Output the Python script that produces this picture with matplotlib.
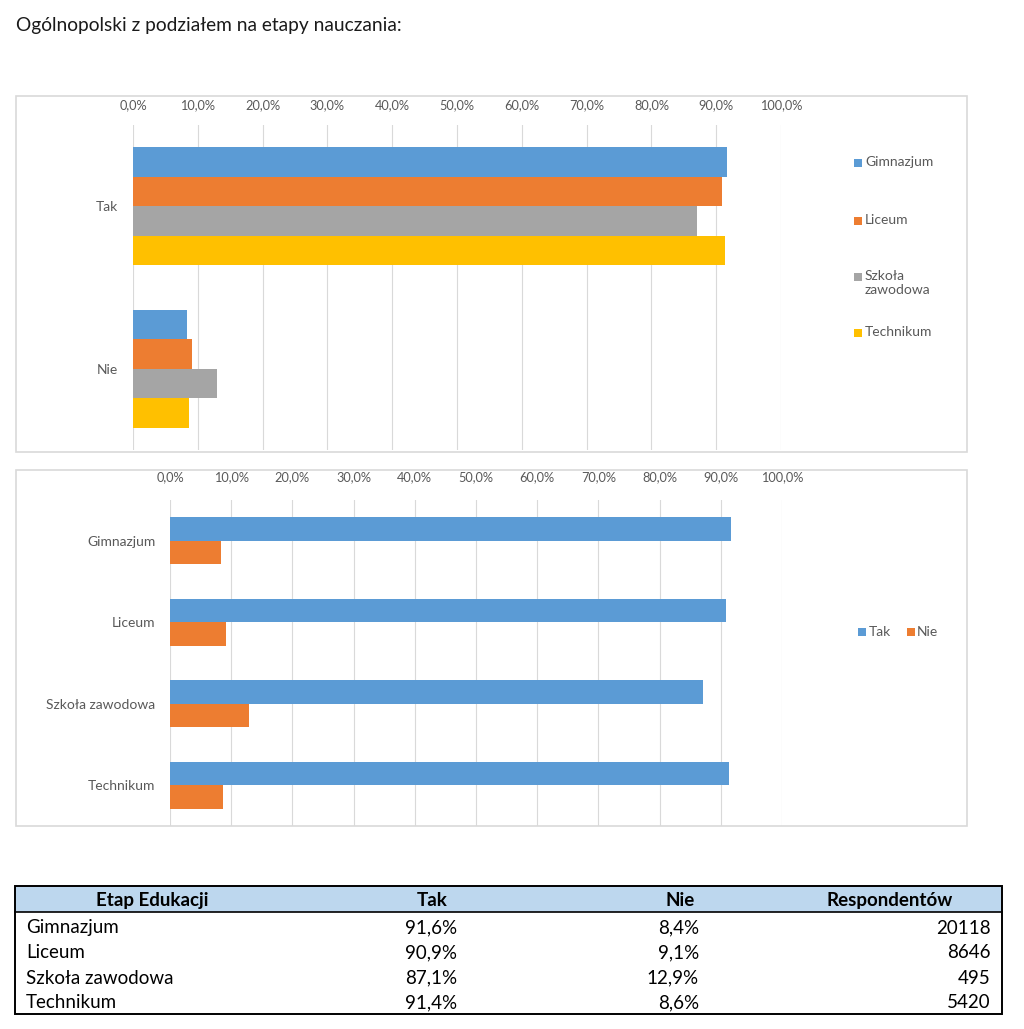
import matplotlib
matplotlib.use('Agg')
import matplotlib.pyplot as plt
from matplotlib.patches import Rectangle
import numpy as np

# ---------------- data ----------------
title = 'Ogólnopolski z podziałem na etapy nauczania:'
stages = ['Gimnazjum', 'Liceum', 'Szkoła zawodowa', 'Technikum']
stage_legend = ['Gimnazjum', 'Liceum', 'Szkoła\nzawodowa', 'Technikum']
answers = ['Tak', 'Nie']
tak = [91.6, 90.9, 87.1, 91.4]
nie = [8.4, 9.1, 12.9, 8.6]
respondents = [20118, 8646, 495, 5420]
xticks = [0, 10, 20, 30, 40, 50, 60, 70, 80, 90, 100]
table_header = ['Etap Edukacji', 'Tak', 'Nie', 'Respondentów']

stage_colors = ['#5B9BD5', '#ED7D31', '#A5A5A5', '#FFC000']
answer_colors = ['#5B9BD5', '#ED7D31']
FONT = 'Lato'
plt.rcParams['font.family'] = [FONT, 'DejaVu Sans']

W, H = 1024, 1029
fig = plt.figure(figsize=(W / 100, H / 100), dpi=100)
fig.patch.set_facecolor('white')

def px_axes(x0, y0, x1, y1):
    return fig.add_axes([x0 / W, 1 - y1 / H, (x1 - x0) / W, (y1 - y0) / H])

overlay = fig.add_axes([0, 0, 1, 1])
overlay.set_xlim(0, W)
overlay.set_ylim(H, 0)
overlay.axis('off')

def pct(v):
    return f'{v:.1f}%'.replace('.', ',')

tick_color = '#595959'
grid_color = '#D9D9D9'

# title
overlay.text(16, 25, title, fontsize=13.8, va='center', ha='left', color='#1a1a1a')

# chart frames
overlay.add_patch(Rectangle((15.5, 95.5), 951, 356, fill=False, ec=grid_color, lw=1.2))
overlay.add_patch(Rectangle((15.5, 469.5), 951, 356, fill=False, ec=grid_color, lw=1.2))

def style_axes(ax, pad_x, pad_y):
    ax.set_xlim(0, 100)
    ax.xaxis.tick_top()
    ax.set_xticks(xticks)
    ax.set_xticklabels([pct(t) for t in xticks])
    ax.tick_params(axis='x', length=0, pad=pad_x, labelsize=9.2, labelcolor=tick_color)
    ax.tick_params(axis='y', length=0, pad=pad_y, labelsize=10, labelcolor=tick_color)
    for s in ax.spines.values():
        s.set_visible(False)
    ax.grid(axis='x', color=grid_color, lw=0.8)
    ax.set_axisbelow(True)
    ax.patch.set_alpha(0)

# ---------- top chart: grouped by answer ----------
ax1 = px_axes(133, 125, 781, 450)
h1 = 0.1815
cat1 = np.arange(len(answers))
for i, st in enumerate(stages):
    ax1.barh(cat1 + (i - 1.5) * h1, [tak[i], nie[i]], height=h1,
             color=stage_colors[i], label=st)
ax1.set_ylim(1.5, -0.5)
ax1.set_yticks(cat1)
ax1.set_yticklabels(answers)
style_axes(ax1, 10, 11)

# legend top (Excel style, marker aligned with first line)
leg_y = [163, 221, 277, 333]
for i, lab in enumerate(stage_legend):
    overlay.add_patch(Rectangle((854, leg_y[i] - 4), 8, 8, color=stage_colors[i], lw=0))
    overlay.text(865, leg_y[i] - 7.5, lab, fontsize=10, color=tick_color,
                 va='top', ha='left', linespacing=1.3)

# ---------- bottom chart: grouped by stage ----------
ax2 = px_axes(170, 500, 782, 826)
h2 = 0.288
cat2 = np.arange(len(stages))
ax2.barh(cat2 - h2 / 2, tak, height=h2, color=answer_colors[0], label=answers[0])
ax2.barh(cat2 + h2 / 2, nie, height=h2, color=answer_colors[1], label=answers[1])
ax2.set_ylim(3.5, -0.5)
ax2.set_yticks(cat2)
ax2.set_yticklabels(stages)
style_axes(ax2, 12, 10.5)

for (mx, tx), lab, c in zip([(858, 869), (907, 917)], answers, answer_colors):
    overlay.add_patch(Rectangle((mx, 628), 7.5, 7.5, color=c, lw=0))
    overlay.text(tx, 632, lab, fontsize=10, color=tick_color, va='center', ha='left')

# ---------- table ----------
tx0, tx1 = 15, 1002
ty0, ty_head, ty1 = 886, 912, 1014
overlay.add_patch(Rectangle((tx0, ty0), tx1 - tx0, ty_head - ty0, color='#BDD7EE', lw=0))
overlay.add_patch(Rectangle((tx0, ty0), tx1 - tx0, ty1 - ty0, fill=False, ec='black', lw=1.4))
overlay.plot([tx0, tx1], [ty_head, ty_head], color='black', lw=1.2)

TFS = 13.5
head_x = [152, 432, 680, 890]
head_y = 900.5
for hx, lab in zip(head_x, table_header):
    overlay.text(hx, head_y, lab, fontsize=TFS, fontweight='bold', ha='center',
                 va='center', color='black')

row_y = [928, 953, 978, 1002.5]
for j, st in enumerate(stages):
    y = row_y[j]
    overlay.text(26, y, st, fontsize=TFS, ha='left', va='center', color='black')
    overlay.text(457, y, pct(tak[j]), fontsize=TFS, ha='right', va='center', color='black')
    overlay.text(699, y, pct(nie[j]), fontsize=TFS, ha='right', va='center', color='black')
    overlay.text(991, y, str(respondents[j]), fontsize=TFS, ha='right', va='center', color='black')

fig.savefig('out.png', dpi=100, facecolor='white')
